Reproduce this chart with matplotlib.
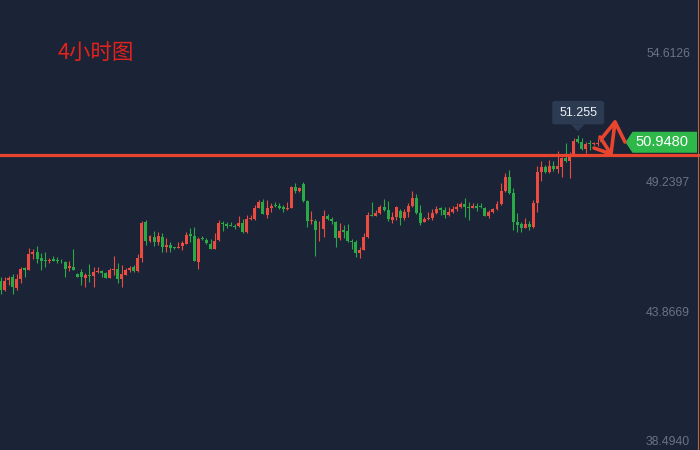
import matplotlib
matplotlib.use("Agg")
import matplotlib.pyplot as plt
import numpy as np
from matplotlib.patches import Polygon, FancyBboxPatch
from matplotlib.transforms import IdentityTransform

# ---------------- data ----------------
opens = [45.19, 44.82, 45.23, 45.36, 44.90, 45.27, 45.73, 45.65, 46.31, 46.39,
         46.14, 46.06, 46.02, 46.10, 46.06, 46.02, 45.98, 45.73, 45.77, 45.48,
         45.56, 45.31, 45.44, 45.40, 45.56, 45.60, 45.52, 45.31, 45.65, 45.69,
         45.27, 45.44, 45.65, 45.77, 45.60, 46.14, 47.64, 46.85, 47.02, 46.81,
         47.02, 46.60, 46.68, 46.60, 46.56, 46.64, 46.73, 47.14, 47.06, 45.98,
         46.98, 46.89, 46.73, 46.52, 46.89, 47.60, 47.56, 47.51, 47.49, 47.47,
         47.60, 47.22, 47.76, 47.76, 48.22, 48.47, 47.93, 48.22, 48.34, 48.30,
         48.26, 48.18, 48.22, 49.09, 48.93, 49.22, 48.51, 47.68, 47.68, 47.37,
         47.35, 47.89, 47.76, 47.64, 46.98, 47.31, 47.27, 46.85, 46.81, 46.35,
         46.48, 47.02, 47.93, 47.89, 48.01, 48.26, 48.14, 47.72, 47.85, 48.09,
         47.81, 48.05, 48.30, 48.63, 48.01, 47.64, 47.76, 47.81, 48.01, 48.22,
         48.14, 47.93, 48.05, 48.18, 48.26, 48.39, 48.26, 48.22, 48.30, 48.32,
         48.22, 47.89, 48.05, 48.18, 48.39, 48.93, 49.51, 48.84, 47.64, 47.56,
         47.39, 47.56, 47.43, 48.43, 49.71, 49.92, 49.71, 49.96, 49.84, 49.92,
         50.30, 50.17, 50.42, 51.08, 50.96, 50.67, 50.90, 50.88, 50.88, 50.96]

closes = [44.82, 45.19, 45.31, 44.94, 45.27, 45.69, 45.65, 46.31, 46.39, 46.10,
          46.02, 46.02, 46.06, 46.02, 46.02, 46.00, 45.69, 45.81, 45.65, 45.36,
          45.36, 45.44, 45.40, 45.56, 45.60, 45.52, 45.31, 45.65, 45.69, 45.27,
          45.48, 45.65, 45.73, 45.60, 46.14, 47.60, 46.85, 47.06, 46.81, 47.06,
          46.60, 46.68, 46.56, 46.56, 46.60, 46.77, 47.10, 47.06, 46.02, 46.93,
          46.93, 46.77, 46.52, 46.85, 47.60, 47.56, 47.47, 47.49, 47.45, 47.60,
          47.22, 47.76, 47.82, 48.22, 48.47, 47.97, 48.22, 48.30, 48.30, 48.22,
          48.18, 48.22, 49.09, 48.93, 49.05, 48.51, 47.68, 47.72, 47.31, 47.41,
          47.89, 47.76, 47.68, 46.98, 47.27, 47.22, 46.85, 46.81, 46.35, 46.48,
          47.02, 47.93, 47.89, 48.01, 48.26, 48.14, 47.76, 47.85, 48.26, 47.81,
          48.05, 48.30, 48.63, 48.01, 47.60, 47.76, 47.81, 48.01, 48.18, 48.14,
          47.93, 48.05, 48.18, 48.26, 48.39, 48.26, 48.22, 48.30, 48.24, 48.28,
          47.89, 48.05, 48.18, 48.39, 48.93, 49.51, 48.84, 47.64, 47.51, 47.39,
          47.56, 47.43, 48.43, 49.71, 49.92, 49.71, 49.96, 49.84, 49.96, 50.30,
          50.17, 50.38, 51.00, 50.96, 50.67, 50.88, 50.88, 50.90, 50.92, 50.948]

highs = [45.36, 45.36, 45.40, 45.48, 45.48, 45.77, 45.77, 46.56, 46.52, 46.64,
         46.35, 46.39, 46.14, 46.23, 46.19, 46.10, 46.02, 46.02, 46.52, 45.52,
         45.69, 45.52, 45.90, 45.77, 45.77, 45.65, 45.56, 45.73, 46.23, 45.94,
         45.85, 45.73, 45.81, 45.85, 46.31, 47.68, 47.72, 47.10, 47.27, 47.22,
         47.18, 46.98, 46.81, 46.62, 46.81, 46.85, 47.22, 47.39, 47.43, 47.02,
         47.06, 46.98, 46.93, 47.18, 47.72, 47.68, 47.64, 47.64, 47.54, 47.89,
         47.76, 47.93, 47.91, 48.34, 48.55, 48.59, 48.55, 48.43, 48.47, 48.43,
         48.34, 48.47, 49.13, 49.26, 49.09, 49.30, 48.55, 48.09, 47.76, 47.68,
         48.14, 47.97, 47.85, 47.68, 47.60, 47.51, 47.56, 46.93, 46.89, 46.60,
         47.18, 48.05, 48.47, 48.14, 48.34, 48.59, 48.51, 48.05, 48.30, 48.18,
         48.18, 48.43, 48.93, 48.80, 48.34, 47.85, 48.05, 48.18, 48.30, 48.26,
         48.26, 48.26, 48.30, 48.43, 48.47, 48.63, 48.47, 48.43, 48.43, 48.43,
         48.26, 48.14, 48.22, 48.51, 49.26, 49.67, 49.80, 49.05, 48.01, 47.64,
         47.81, 47.68, 48.55, 49.96, 50.17, 50.00, 50.21, 50.17, 50.59, 50.34,
         50.92, 50.55, 51.13, 51.255, 51.13, 50.96, 51.04, 50.96, 51.13, 51.00]

lows = [44.65, 44.77, 45.02, 44.65, 44.82, 45.11, 45.36, 45.65, 46.10, 45.94,
        45.65, 45.77, 45.94, 46.02, 45.94, 45.94, 45.36, 45.60, 45.63, 45.35,
        45.02, 44.94, 45.15, 44.94, 45.52, 45.36, 45.30, 45.30, 45.44, 45.11,
        44.94, 45.42, 45.56, 45.56, 45.58, 45.98, 46.68, 46.81, 46.64, 46.68,
        46.39, 46.39, 46.39, 46.52, 46.54, 46.48, 46.71, 46.81, 46.00, 45.69,
        46.89, 46.73, 46.50, 46.50, 46.87, 47.27, 47.39, 47.47, 47.35, 47.43,
        47.18, 47.20, 47.72, 47.74, 48.20, 47.95, 47.81, 48.05, 48.26, 48.18,
        48.05, 48.14, 48.20, 48.84, 48.88, 48.47, 47.43, 47.56, 46.23, 46.85,
        47.02, 47.72, 47.56, 46.60, 46.89, 46.98, 46.81, 46.52, 46.19, 46.14,
        46.46, 46.98, 47.87, 47.87, 47.97, 48.09, 47.68, 47.60, 47.72, 47.51,
        47.72, 47.85, 48.28, 47.99, 47.51, 47.62, 47.72, 47.72, 47.97, 47.93,
        47.81, 47.89, 48.01, 48.09, 48.22, 47.85, 47.72, 48.20, 48.09, 48.22,
        47.87, 47.81, 48.03, 48.14, 48.34, 48.90, 48.82, 47.31, 47.22, 47.22,
        47.37, 47.31, 47.41, 48.05, 49.34, 49.69, 49.69, 49.76, 49.67, 49.51,
        50.13, 49.47, 50.40, 50.92, 50.63, 50.50, 50.63, 50.84, 50.80, 50.94]

price_ticks = [54.6126, 49.2397, 43.8669, 38.4940]
price_tick_labels = ["54.6126", "49.2397", "43.8669", "38.4940"]
support_level = 50.42
current_price = 50.948
current_label = "50.9480"
tooltip_index = 143
tooltip_value = 51.255
tooltip_label = "51.255"
title = "4小时图"

# ---------------- style ----------------
BG = "#1b2336"
UP = "#ec4b40"
DOWN = "#2aaa46"
LINE_RED = "#e8442e"
LABEL_GREEN = "#2fb84a"
TICK_GRAY = "#6a7386"
TIP_BG = "#2c3a52"
W, H = 700, 450

fig = plt.figure(figsize=(W / 100, H / 100), dpi=100)
fig.patch.set_facecolor(BG)
ax = fig.add_axes([0, 0, 1, 1])
ax.set_facecolor(BG)
spacing = 4.035
ax.set_xlim(-0.7 / spacing, -0.7 / spacing + W / spacing)
ax.set_ylim(38.174, 56.854)
ax.axis("off")

o = np.array(opens); c = np.array(closes)
h = np.array(highs); l = np.array(lows)
x = np.arange(len(o))
cols = np.where(c >= o, UP, DOWN)

ax.vlines(x, l, h, colors=cols, linewidth=0.8, zorder=2)
bottom = np.minimum(o, c)
height = np.maximum(np.abs(c - o), 0.035)
ax.bar(x, height, bottom=bottom, width=0.74, color=cols, linewidth=0, zorder=3)

# support line
ax.axhline(support_level, color=LINE_RED, linewidth=2.3, zorder=4)

# right edge line
ax.axvline(-0.7 / spacing + 697.6 / spacing, color="#b8663c", linewidth=0.8, zorder=5)

# price labels
ytr = ax.get_yaxis_transform()
for v, s in zip(price_ticks, price_tick_labels):
    ax.text(690 / W, v, s, transform=ytr, ha="right", va="center",
            fontsize=8.8, color=TICK_GRAY, family="Liberation Sans", zorder=6)

# title
ax.text(58 / W, 1 - 54 / H, title, transform=ax.transAxes, ha="left", va="center",
        fontsize=15.5, color="#e3221c", family=["Noto Sans CJK SC", "DejaVu Sans"])

fig.canvas.draw()
ident = IdentityTransform()

def to_disp(xv, yv):
    return ax.transData.transform((xv, yv))

# current price label (green arrow box)
_, yc = to_disp(0, current_price)
poly = Polygon([(625.5, yc), (632.5, yc - 10.5), (697, yc - 10.5), (697, yc + 10.5),
                (632.5, yc + 10.5)], closed=True, transform=ident,
               facecolor=LABEL_GREEN, edgecolor="none", zorder=7)
fig.add_artist(poly)
fig.text(662 / W, yc / H, current_label, ha="center", va="center",
         fontsize=10.5, color="white", family="Liberation Sans", zorder=8)

# tooltip
tx, ty = to_disp(tooltip_index, tooltip_value)
box = FancyBboxPatch((tx - 25.5, ty + 10.5), 52, 23.5,
                     boxstyle="round,pad=0,rounding_size=2.5", transform=ident,
                     facecolor=TIP_BG, edgecolor="none", zorder=7)
fig.add_artist(box)
tri = Polygon([(tx - 7, ty + 10.6), (tx + 7, ty + 10.6), (tx, ty + 3.5)], closed=True,
              transform=ident, facecolor=TIP_BG, edgecolor="none", zorder=7)
fig.add_artist(tri)
fig.text((tx + 0.5) / W, (ty + 22.3) / H, tooltip_label, ha="center", va="center",
         fontsize=9, color="#eef1f5", family="Liberation Sans", zorder=8)

# hand-drawn arrow annotation (image pixel coords)
def P(xi, yi):
    return (xi, H - yi)

segs = [
    [P(602, 138), P(615, 122), P(625, 142)],
    [P(615, 122), P(611, 154)],
    [P(600, 137), P(611, 154), P(594, 148)],
]
for sgm in segs:
    xs, ys = zip(*sgm)
    fig.add_artist(plt.Line2D(xs, ys, transform=ident, color=LINE_RED,
                              linewidth=2.6, solid_capstyle="round",
                              solid_joinstyle="round", zorder=9))

fig.savefig("out.png", dpi=100, facecolor=BG)
